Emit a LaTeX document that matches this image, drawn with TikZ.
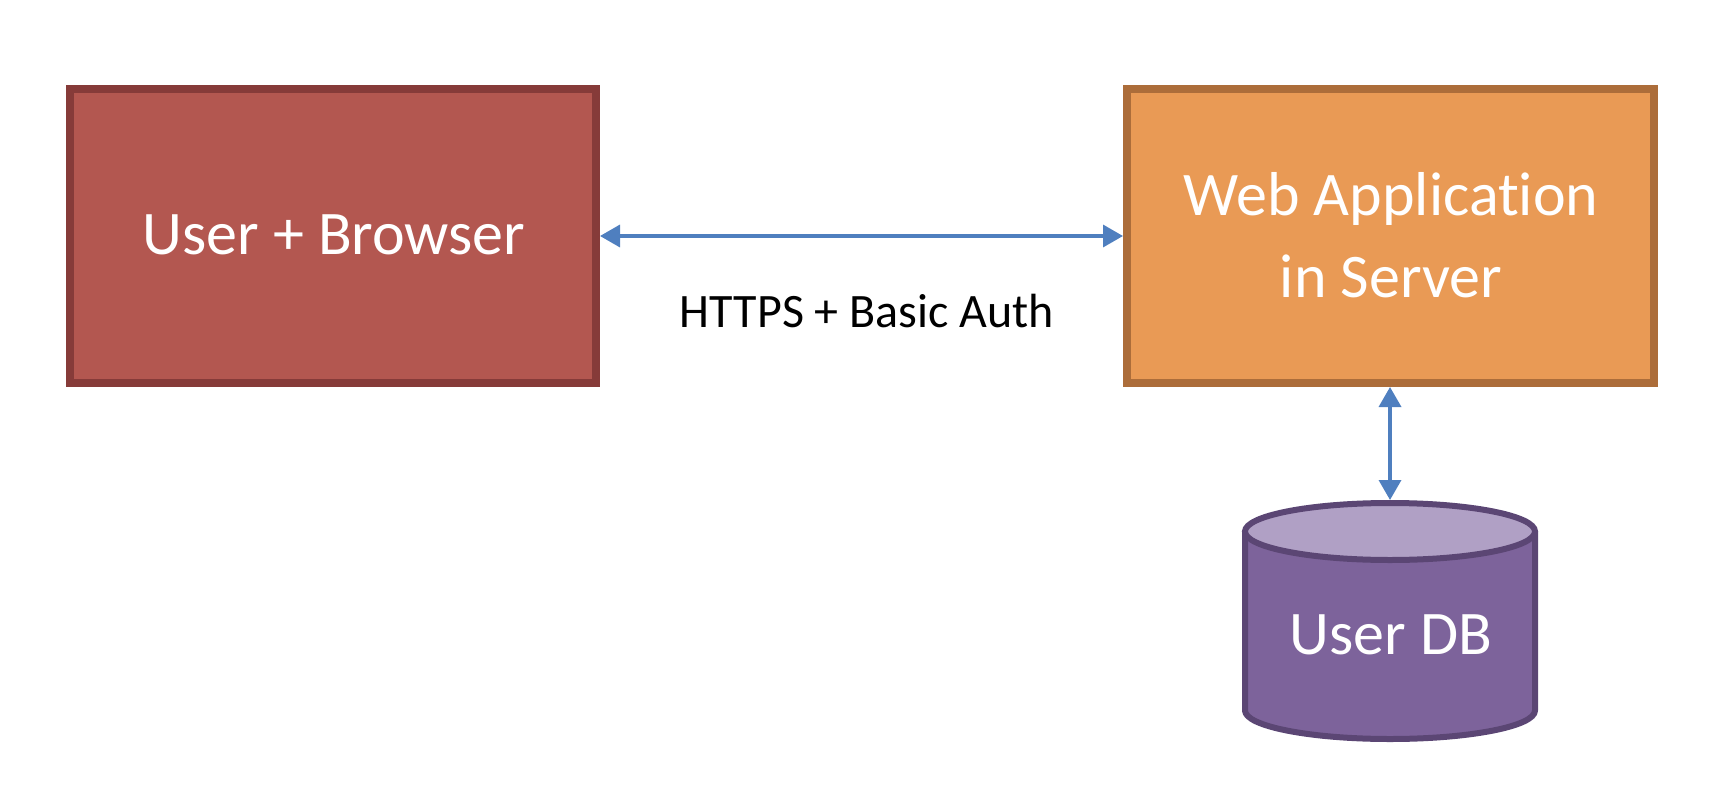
\documentclass[tikz,border=0pt]{standalone}
\usepackage{fontspec}
\setmainfont{Carlito}[Ligatures=NoCommon]
\usetikzlibrary{arrows.meta}
\definecolor{ubfill}{HTML}{B35750}
\definecolor{ubline}{HTML}{863B39}
\definecolor{wafill}{HTML}{E99A55}
\definecolor{waline}{HTML}{AC6D3A}
\definecolor{dbbody}{HTML}{7D639B}
\definecolor{dbtopc}{HTML}{B0A0C5}
\definecolor{dbline}{HTML}{5B4674}
\definecolor{arr}{HTML}{4F7FBF}
\tikzset{
  boxshape/.style={rectangle, line width=8pt, inner sep=0pt},
  bigtxt/.style={anchor=base, inner sep=0pt, text=white, font=\fontsize{62}{82}\selectfont, align=center},
  smalltxt/.style={anchor=base, inner sep=0pt, text=black, font=\fontsize{48}{58}\selectfont},
  conn/.style={draw=arr, line width=3.5pt, {Triangle[length=20pt,width=22pt]}-{Triangle[length=20pt,width=22pt]}}
}
\begin{document}
\begin{tikzpicture}[x=1pt,y=-1pt]
\useasboundingbox (0,0) rectangle (1732,792);
% boxes
\node[boxshape, draw=ubline, fill=ubfill, minimum width=526pt, minimum height=294pt] (ub) at (333,236) {};
\node[boxshape, draw=waline, fill=wafill, minimum width=527pt, minimum height=294pt] (wa) at (1390.5,236) {};
\node[bigtxt] (ubt) at (334,254) {User + Browser};
\node[bigtxt] (wat1) at (1391,215) {Web Application};
\node[bigtxt] (wat2) at (1391,297) {in Server};
% cylinder
\fill[dbbody] (1245,531.5) -- (1245,710.5) arc[start angle=180, end angle=0, x radius=145, y radius=28.5] -- (1535,531.5) -- cycle;
\fill[dbtopc] (1390,531.5) ellipse[x radius=145, y radius=28.5];
\draw[dbline, line width=6pt, line join=round] (1245,531.5) -- (1245,710.5) arc[start angle=180, end angle=0, x radius=145, y radius=28.5] -- (1535,531.5);
\draw[dbline, line width=6pt] (1390,531.5) ellipse[x radius=145, y radius=28.5];
\coordinate (dbtop) at (1390,500);
\node[bigtxt] (db) at (1391,654) {User DB};
% label
\node[smalltxt] (lbl) at (867,327) {HTTPS + Basic Auth};
% connectors
\draw[conn] (ub.east) -- (wa.west);
\draw[conn] (wa.south -| dbtop) -- (dbtop);
\end{tikzpicture}
\end{document}
